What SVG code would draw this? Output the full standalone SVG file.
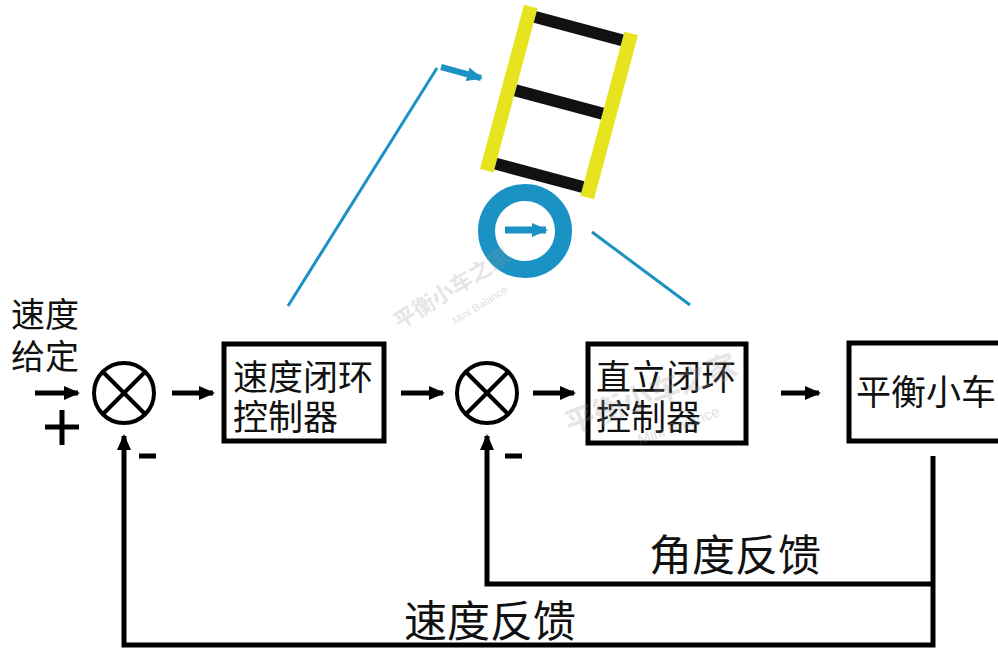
<svg xmlns="http://www.w3.org/2000/svg" width="998" height="652" viewBox="0 0 998 652">
  <style>
    .cn { font-family: "Liberation Sans", "Noto Sans CJK SC", sans-serif; fill: #111; }
    .box { fill: #fff; stroke: #000; stroke-width: 5; }
    .sum { fill: none; stroke: #000; stroke-width: 4; }
    .wire { fill: none; stroke: #000; stroke-width: 5; }
    .sign { stroke: #000; stroke-width: 5; }
    .blue { stroke: #1a92c4; fill: none; }
    .wm { font-family: "Liberation Sans", "Noto Sans CJK SC", sans-serif; fill: #9a9a9a; opacity: 0.25; font-weight: bold; }
    .wmsmall { font-family: "Liberation Sans", sans-serif; fill: #9a9a9a; opacity: 0.3; }
  </style>
  <defs>
    <marker id="ah" markerUnits="userSpaceOnUse" markerWidth="16" markerHeight="16" viewBox="0 0 16 16" refX="14" refY="8" orient="auto">
      <path d="M0,1 L16,8 L0,15 Z" fill="#000"/>
    </marker>
    <marker id="ahb" markerUnits="userSpaceOnUse" markerWidth="16" markerHeight="14" viewBox="0 0 16 14" refX="14" refY="7" orient="auto">
      <path d="M0,0 L16,7 L0,14 Z" fill="#1a92c4"/>
    </marker>
  </defs>

  <rect width="998" height="652" fill="#fff"/>

  <!-- balancing robot sketch: body frame, wheel and motion arrows -->
  <g id="robot">
    <g transform="translate(559,102) rotate(15)">
      <rect x="-59" y="-85" width="14" height="170" fill="#e6e41f"/>
      <rect x="45" y="-85" width="14" height="170" fill="#e6e41f"/>
      <rect x="-45" y="-82" width="90" height="12" fill="#111"/>
      <rect x="-45" y="-6" width="90" height="12" fill="#111"/>
      <rect x="-45" y="70" width="90" height="12" fill="#111"/>
    </g>
    <circle cx="525" cy="231" r="38.5" style="fill:#fff;stroke:#1a92c4;stroke-width:17"/>
    <line x1="505" y1="230" x2="546" y2="230" class="blue" stroke-width="7" marker-end="url(#ahb)"/>
    <line x1="288" y1="306" x2="437" y2="68" class="blue" stroke-width="3"/>
    <line x1="441" y1="67" x2="481" y2="78" class="blue" stroke-width="6" marker-end="url(#ahb)"/>
    <line x1="592" y1="232" x2="690" y2="305" class="blue" stroke-width="3"/>
  </g>

  <!-- input label -->
  <g id="input">
    <text class="cn" font-size="34"><tspan x="11" y="327">速度</tspan><tspan x="11" y="369">给定</tspan></text>
    <line x1="45" y1="427" x2="79" y2="427" class="sign"/>
    <line x1="62" y1="410" x2="62" y2="445" class="sign"/>
  </g>

  <!-- summing junctions -->
  <g id="sum1">
    <circle cx="124" cy="393" r="30" class="sum"/>
    <line x1="103" y1="372" x2="145" y2="414" stroke="#000" stroke-width="4"/>
    <line x1="145" y1="372" x2="103" y2="414" stroke="#000" stroke-width="4"/>
    <line x1="139" y1="456" x2="156" y2="456" class="sign" stroke-width="4"/>
  </g>
  <g id="sum2">
    <circle cx="487" cy="393" r="30" class="sum"/>
    <line x1="466" y1="372" x2="508" y2="414" stroke="#000" stroke-width="4"/>
    <line x1="508" y1="372" x2="466" y2="414" stroke="#000" stroke-width="4"/>
    <line x1="505" y1="456" x2="522" y2="456" class="sign" stroke-width="4"/>
  </g>

  <!-- controller blocks -->
  <g id="speed-ctrl">
    <rect x="224" y="344" width="160" height="97" class="box"/>
    <text class="cn" font-size="35"><tspan x="233" y="390">速度闭环</tspan><tspan x="233" y="430">控制器</tspan></text>
  </g>
  <g id="angle-ctrl">
    <rect x="588" y="344" width="158" height="99" class="box"/>
    <text class="cn" font-size="35"><tspan x="596" y="390">直立闭环</tspan><tspan x="596" y="430">控制器</tspan></text>
  </g>
  <g id="plant">
    <rect x="849" y="343" width="160" height="98" class="box"/>
    <text class="cn" x="856" y="405" font-size="35">平衡小车</text>
  </g>

  <!-- connectors -->
  <g id="connectors">
    <line x1="35" y1="393" x2="78" y2="393" class="wire" marker-end="url(#ah)"/>
    <line x1="172" y1="393" x2="213" y2="393" class="wire" marker-end="url(#ah)"/>
    <line x1="401" y1="393" x2="443" y2="393" class="wire" marker-end="url(#ah)"/>
    <line x1="533" y1="393" x2="574" y2="393" class="wire" marker-end="url(#ah)"/>
    <line x1="781" y1="393" x2="819" y2="393" class="wire" marker-end="url(#ah)"/>
    <path d="M933,456 V645 H124 V436" class="wire" marker-end="url(#ah)"/>
    <path d="M933,584 H487 V436" class="wire" marker-end="url(#ah)"/>
  </g>

  <!-- feedback labels -->
  <g id="labels">
    <text class="cn" x="649" y="571" font-size="43">角度反馈</text>
    <text class="cn" x="404" y="637" font-size="43">速度反馈</text>
  </g>

  <!-- faint brand marks -->
  <g id="brand">
    <text class="wm" x="0" y="0" font-size="22" transform="translate(400,330) rotate(-32)">平衡小车之家</text>
    <text class="wmsmall" x="0" y="0" font-size="11" transform="translate(455,325) rotate(-32)">Mini Balance</text>
    <text class="wm" x="0" y="0" font-size="30" transform="translate(570,435) rotate(-20)">平衡小车之家</text>
    <text class="wmsmall" x="0" y="0" font-size="15" transform="translate(640,445) rotate(-20)">Mini Balance</text>
  </g>
</svg>
